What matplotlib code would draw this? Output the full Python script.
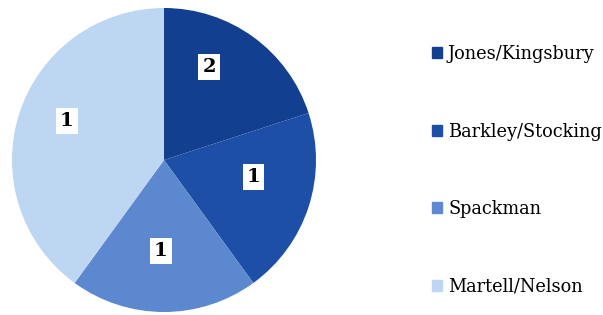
import matplotlib
matplotlib.use("Agg")
import matplotlib.pyplot as plt
import matplotlib.patches as patches
import numpy as np

# slice sizes as drawn in the reference; the printed data labels differ
teams = ["Jones/Kingsbury", "Barkley/Stocking", "Spackman", "Martell/Nelson"]
values = [1, 1, 1, 2]
data_labels = ["2", "1", "1", "1"]
colors = ["#123f8f", "#1d4fa6", "#5c88cf", "#bdd6f1"]

fig = plt.figure(figsize=(6.03, 3.15), dpi=100)
ax = fig.add_axes([12 / 603, 3 / 315, 304 / 603, 304 / 315])

wedges, _ = ax.pie(values, colors=colors, startangle=90, counterclock=False,
                   wedgeprops=dict(linewidth=0))
ax.set_xlim(-1, 1)
ax.set_ylim(-1, 1)
ax.set_aspect("equal")

# label placement tweaks (radius, angle shift in degrees)
label_r = [0.68, 0.6, 0.6, 0.69]
label_shift = [10, 7, -2, -4]
for w, txt, r, s in zip(wedges, data_labels, label_r, label_shift):
    ang = np.deg2rad((w.theta1 + w.theta2) / 2 + s)
    ax.text(r * np.cos(ang), r * np.sin(ang), txt, ha="center", va="center",
            fontsize=14, fontweight="bold", family="DejaVu Serif",
            bbox=dict(facecolor="white", edgecolor="none", pad=3))

handles = [patches.Rectangle((0, 0), 1, 1, color=c) for c in colors]
fig.legend(handles, teams, loc="upper left", bbox_to_anchor=(416 / 603, 1 - 29 / 315),
           frameon=False, handlelength=0.55, handleheight=0.55, handletextpad=0.35,
           labelspacing=3.35, prop=dict(family="DejaVu Serif", size=12.8))

fig.savefig("out.png", dpi=100)
